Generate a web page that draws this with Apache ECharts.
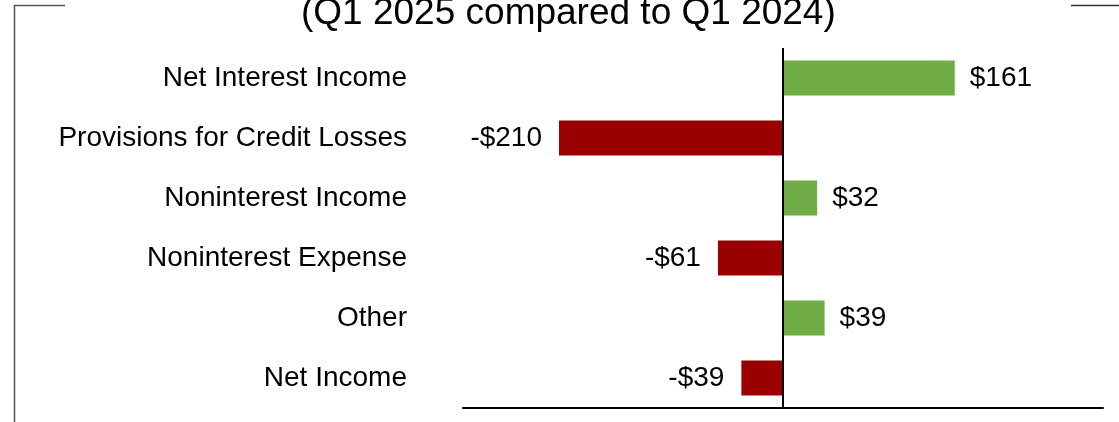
<!DOCTYPE html>
<html>
<head>
<meta charset="utf-8">
<title>Q1 2025 compared to Q1 2024</title>
<script src="https://cdn.jsdelivr.net/npm/echarts@6/dist/echarts.min.js"></script>
<style>
  html, body { margin: 0; padding: 0; background: #ffffff; }
  #chart { width: 1119px; height: 422px; }
</style>
</head>
<body>
<div id="chart"></div>
<script>
// Change by line item, in millions of dollars
const categories = [
  'Net Interest Income',
  'Provisions for Credit Losses',
  'Noninterest Income',
  'Noninterest Expense',
  'Other',
  'Net Income'
];
const changes = [161, -210, 32, -61, 39, -39];
const titleText = '(Q1 2025 compared to Q1 2024)';

const FONT = '"Liberation Sans", Arial, Helvetica, sans-serif';
const GREEN = '#70AD47';
const RED = '#9A0000';

function money(v) {
  return (v < 0 ? '-$' : '$') + Math.abs(v);
}

const chart = echarts.init(document.getElementById('chart'), null, { renderer: 'canvas' });

chart.setOption({
  animation: false,
  backgroundColor: '#ffffff',
  textStyle: { fontFamily: FONT },
  grid: { left: 463, right: 16, top: 48, bottom: 14, containLabel: false },
  xAxis: {
    type: 'value',
    min: -300,
    max: 300,
    axisLine: { show: true, onZero: false, lineStyle: { color: '#000000', width: 2 } },
    axisTick: { show: false },
    axisLabel: { show: false },
    splitLine: { show: false }
  },
  yAxis: {
    type: 'category',
    inverse: true,
    data: categories,
    axisLine: { show: false, onZero: false },
    axisTick: { show: false },
    splitLine: { show: false },
    axisLabel: {
      margin: 56,
      color: '#000000',
      fontSize: 28,
      fontFamily: FONT
    }
  },
  series: [{
    type: 'bar',
    barWidth: 35,
    data: changes.map(v => ({
      value: v,
      label: v < 0
        ? { position: 'left', distance: 17 }
        : { position: 'right', distance: 15 }
    })),
    itemStyle: {
      color: p => (p.value < 0 ? RED : GREEN)
    },
    label: {
      show: true,
      color: '#000000',
      fontSize: 28,
      fontFamily: FONT,
      formatter: p => money(p.value)
    },
    markLine: {
      silent: true,
      symbol: 'none',
      label: { show: false },
      lineStyle: { color: '#000000', width: 2, type: 'solid' },
      data: [{ xAxis: 0 }]
    }
  }],
  graphic: [
    {
      type: 'text',
      left: 301,
      top: -5,
      style: {
        text: titleText,
        fill: '#000000',
        font: '37px ' + FONT
      }
    },
    {
      type: 'polyline',
      shape: { points: [[14.5, 422], [14.5, 5.5], [65, 5.5]] },
      style: { stroke: '#555555', lineWidth: 1.5, fill: null }
    },
    {
      type: 'line',
      shape: { x1: 1071, y1: 5.5, x2: 1119, y2: 5.5 },
      style: { stroke: '#333333', lineWidth: 1.5 }
    }
  ]
});
</script>
</body>
</html>
